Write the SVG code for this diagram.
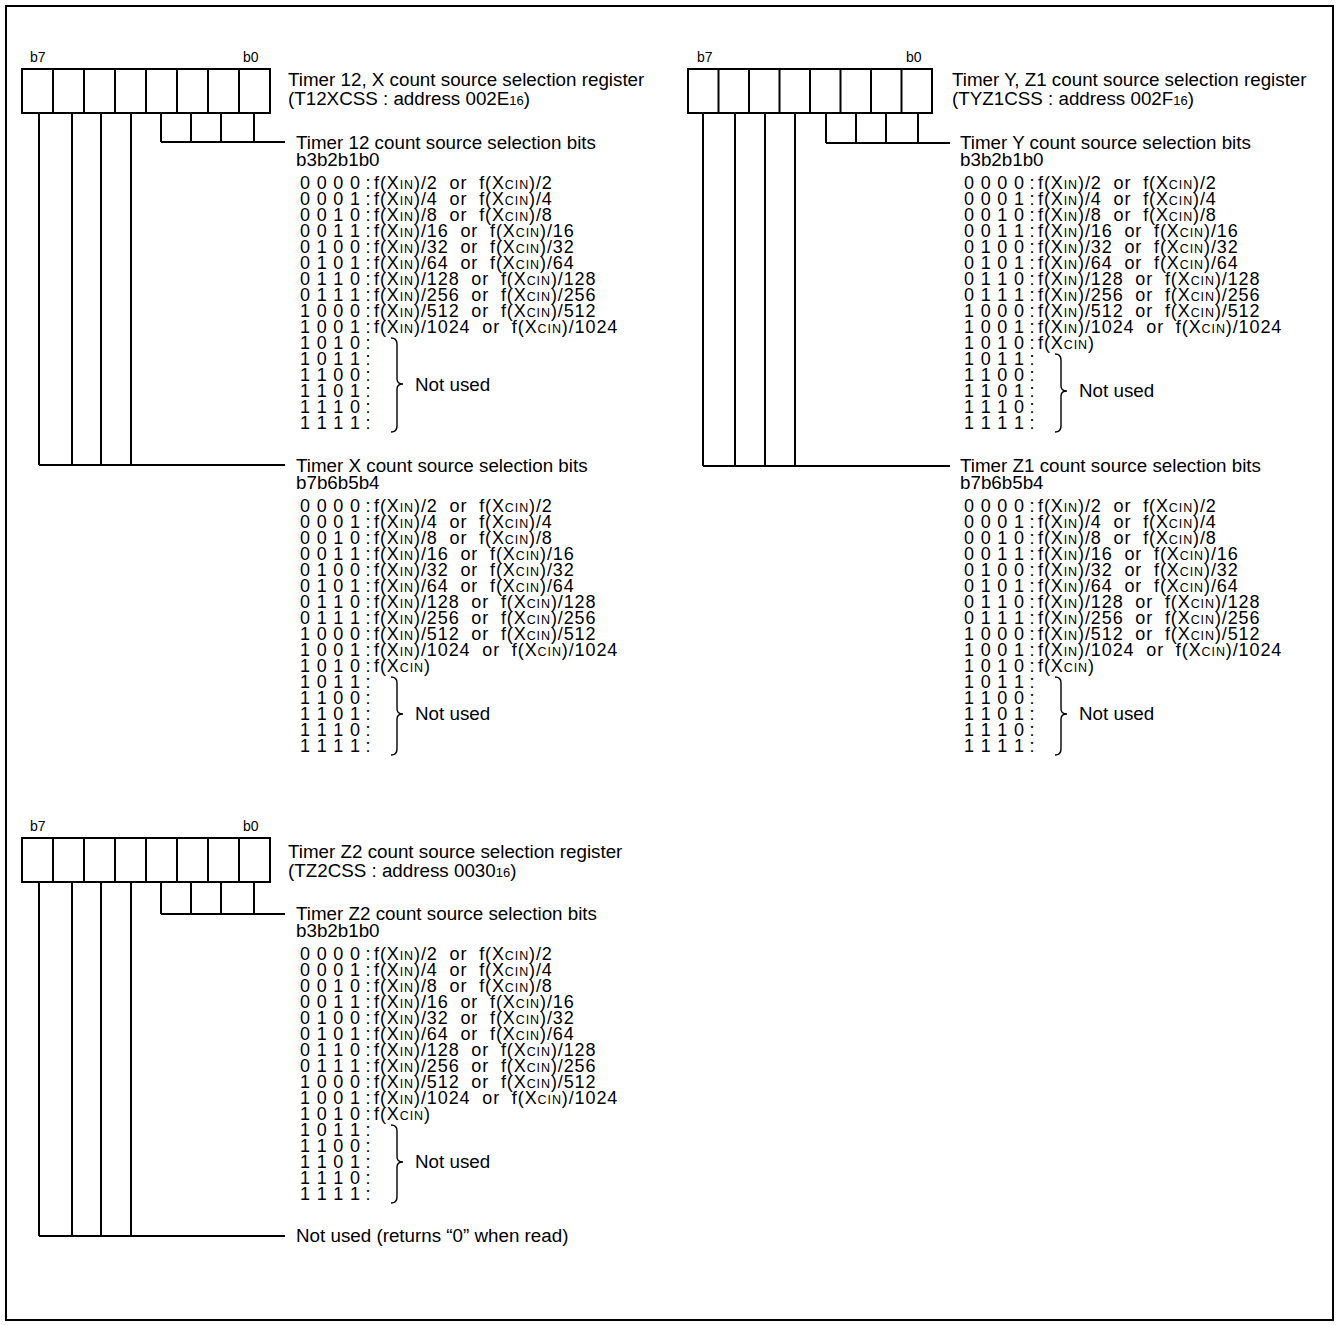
<svg xmlns="http://www.w3.org/2000/svg" width="1337" height="1325" viewBox="0 0 1337 1325">
<style>
text{font-family:"Liberation Sans",Arial,sans-serif;fill:#000}
.h{font-size:18.8px}
.lb{font-size:14px}
.r{font-size:18px}
.fc{letter-spacing:0.9px;white-space:pre}
.s{font-size:12.5px}
.sub{font-size:13px}
.box{fill:#fff;stroke:#000;stroke-width:2}
.ln{stroke:#000;stroke-width:2;fill:none}
.br{stroke:#000;stroke-width:1.4;fill:none}
</style>
<rect x="6" y="6" width="1327" height="1314" fill="#fff" stroke="#000" stroke-width="2"/>

<g id="reg-t12xcss">
<rect class="box" x="22" y="69" width="248" height="44"/>
<path class="ln" d="M53,69V113M84,69V113M115,69V113M146,69V113M177,69V113M208,69V113M239,69V113"/>
<text class="lb" x="30" y="62">b7</text>
<text class="lb" x="243" y="62">b0</text>
<text class="h"><tspan x="288" y="86">Timer 12, X count source selection register</tspan><tspan x="288" y="105">(T12XCSS : address 002E<tspan class="sub">16</tspan>)</tspan></text>
</g>

<g id="reg-tyz1css">
<rect class="box" x="688" y="69" width="244" height="44"/>
<path class="ln" d="M718.5,69V113M749,69V113M779.5,69V113M810,69V113M840.5,69V113M871,69V113M901.5,69V113"/>
<text class="lb" x="697" y="62">b7</text>
<text class="lb" x="906" y="62">b0</text>
<text class="h"><tspan x="952" y="86">Timer Y, Z1 count source selection register</tspan><tspan x="952" y="105">(TYZ1CSS : address 002F<tspan class="sub">16</tspan>)</tspan></text>
</g>

<g id="reg-tz2css">
<rect class="box" x="22" y="838" width="248" height="44"/>
<path class="ln" d="M53,838V882M84,838V882M115,838V882M146,838V882M177,838V882M208,838V882M239,838V882"/>
<text class="lb" x="30" y="831">b7</text>
<text class="lb" x="243" y="831">b0</text>
<text class="h"><tspan x="288" y="858">Timer Z2 count source selection register</tspan><tspan x="288" y="877">(TZ2CSS : address 0030<tspan class="sub">16</tspan>)</tspan></text>
</g>

<g id="connectors" class="ln">
<path d="M161,113V142M191,113V142M221,113V142M254,113V142M161,142H285"/>
<path d="M39,113V465M72,113V465M101,113V465M131,113V465M39,465H285"/>
<path d="M826,113V143M856,113V143M886,113V143M918,113V143M826,143H950"/>
<path d="M703,113V466M735,113V466M765,113V466M795,113V466M703,466H950"/>
<path d="M161,882V914M191,882V914M221,882V914M254,882V914M161,914H285"/>
<path d="M39,882V1236M72,882V1236M101,882V1236M131,882V1236M39,1236H285"/>
</g>

<g id="tbl-timer12">
<text class="h"><tspan x="296" y="149">Timer 12 count source selection bits</tspan><tspan x="296" y="166">b3b2b1b0</tspan></text>
<text class="r"><tspan x="300 316.7 333.3 350 365.5" y="189">0000:</tspan><tspan x="300 316.7 333.3 350 365.5" y="205">0001:</tspan><tspan x="300 316.7 333.3 350 365.5" y="221">0010:</tspan><tspan x="300 316.7 333.3 350 365.5" y="237">0011:</tspan><tspan x="300 316.7 333.3 350 365.5" y="253">0100:</tspan><tspan x="300 316.7 333.3 350 365.5" y="269">0101:</tspan><tspan x="300 316.7 333.3 350 365.5" y="285">0110:</tspan><tspan x="300 316.7 333.3 350 365.5" y="301">0111:</tspan><tspan x="300 316.7 333.3 350 365.5" y="317">1000:</tspan><tspan x="300 316.7 333.3 350 365.5" y="333">1001:</tspan><tspan x="300 316.7 333.3 350 365.5" y="349">1010:</tspan><tspan x="300 316.7 333.3 350 365.5" y="365">1011:</tspan><tspan x="300 316.7 333.3 350 365.5" y="381">1100:</tspan><tspan x="300 316.7 333.3 350 365.5" y="397">1101:</tspan><tspan x="300 316.7 333.3 350 365.5" y="413">1110:</tspan><tspan x="300 316.7 333.3 350 365.5" y="429">1111:</tspan></text>
<text class="r fc"><tspan x="374" y="189">f(X<tspan class="s">IN</tspan>)/2  or  f(X<tspan class="s">CIN</tspan>)/2</tspan><tspan x="374" y="205">f(X<tspan class="s">IN</tspan>)/4  or  f(X<tspan class="s">CIN</tspan>)/4</tspan><tspan x="374" y="221">f(X<tspan class="s">IN</tspan>)/8  or  f(X<tspan class="s">CIN</tspan>)/8</tspan><tspan x="374" y="237">f(X<tspan class="s">IN</tspan>)/16  or  f(X<tspan class="s">CIN</tspan>)/16</tspan><tspan x="374" y="253">f(X<tspan class="s">IN</tspan>)/32  or  f(X<tspan class="s">CIN</tspan>)/32</tspan><tspan x="374" y="269">f(X<tspan class="s">IN</tspan>)/64  or  f(X<tspan class="s">CIN</tspan>)/64</tspan><tspan x="374" y="285">f(X<tspan class="s">IN</tspan>)/128  or  f(X<tspan class="s">CIN</tspan>)/128</tspan><tspan x="374" y="301">f(X<tspan class="s">IN</tspan>)/256  or  f(X<tspan class="s">CIN</tspan>)/256</tspan><tspan x="374" y="317">f(X<tspan class="s">IN</tspan>)/512  or  f(X<tspan class="s">CIN</tspan>)/512</tspan><tspan x="374" y="333">f(X<tspan class="s">IN</tspan>)/1024  or  f(X<tspan class="s">CIN</tspan>)/1024</tspan></text>
<path class="br" d="M391,338Q397,338 397,344L397,379Q397,384 403,384Q397,384 397,389L397,426Q397,432 391,432"/>
<text class="h" x="415" y="391">Not used</text>
</g>

<g id="tbl-timerx" transform="translate(0,323)">
<text class="h"><tspan x="296" y="149">Timer X count source selection bits</tspan><tspan x="296" y="166">b7b6b5b4</tspan></text>
<text class="r"><tspan x="300 316.7 333.3 350 365.5" y="189">0000:</tspan><tspan x="300 316.7 333.3 350 365.5" y="205">0001:</tspan><tspan x="300 316.7 333.3 350 365.5" y="221">0010:</tspan><tspan x="300 316.7 333.3 350 365.5" y="237">0011:</tspan><tspan x="300 316.7 333.3 350 365.5" y="253">0100:</tspan><tspan x="300 316.7 333.3 350 365.5" y="269">0101:</tspan><tspan x="300 316.7 333.3 350 365.5" y="285">0110:</tspan><tspan x="300 316.7 333.3 350 365.5" y="301">0111:</tspan><tspan x="300 316.7 333.3 350 365.5" y="317">1000:</tspan><tspan x="300 316.7 333.3 350 365.5" y="333">1001:</tspan><tspan x="300 316.7 333.3 350 365.5" y="349">1010:</tspan><tspan x="300 316.7 333.3 350 365.5" y="365">1011:</tspan><tspan x="300 316.7 333.3 350 365.5" y="381">1100:</tspan><tspan x="300 316.7 333.3 350 365.5" y="397">1101:</tspan><tspan x="300 316.7 333.3 350 365.5" y="413">1110:</tspan><tspan x="300 316.7 333.3 350 365.5" y="429">1111:</tspan></text>
<text class="r fc"><tspan x="374" y="189">f(X<tspan class="s">IN</tspan>)/2  or  f(X<tspan class="s">CIN</tspan>)/2</tspan><tspan x="374" y="205">f(X<tspan class="s">IN</tspan>)/4  or  f(X<tspan class="s">CIN</tspan>)/4</tspan><tspan x="374" y="221">f(X<tspan class="s">IN</tspan>)/8  or  f(X<tspan class="s">CIN</tspan>)/8</tspan><tspan x="374" y="237">f(X<tspan class="s">IN</tspan>)/16  or  f(X<tspan class="s">CIN</tspan>)/16</tspan><tspan x="374" y="253">f(X<tspan class="s">IN</tspan>)/32  or  f(X<tspan class="s">CIN</tspan>)/32</tspan><tspan x="374" y="269">f(X<tspan class="s">IN</tspan>)/64  or  f(X<tspan class="s">CIN</tspan>)/64</tspan><tspan x="374" y="285">f(X<tspan class="s">IN</tspan>)/128  or  f(X<tspan class="s">CIN</tspan>)/128</tspan><tspan x="374" y="301">f(X<tspan class="s">IN</tspan>)/256  or  f(X<tspan class="s">CIN</tspan>)/256</tspan><tspan x="374" y="317">f(X<tspan class="s">IN</tspan>)/512  or  f(X<tspan class="s">CIN</tspan>)/512</tspan><tspan x="374" y="333">f(X<tspan class="s">IN</tspan>)/1024  or  f(X<tspan class="s">CIN</tspan>)/1024</tspan><tspan x="374" y="349">f(X<tspan class="s">CIN</tspan>)</tspan></text>
<path class="br" d="M391,354Q397,354 397,360L397,386Q397,391 403,391Q397,391 397,396L397,426Q397,432 391,432"/>
<text class="h" x="415" y="397">Not used</text>
</g>

<g id="tbl-timery" transform="translate(664,0)">
<text class="h"><tspan x="296" y="149">Timer Y count source selection bits</tspan><tspan x="296" y="166">b3b2b1b0</tspan></text>
<text class="r"><tspan x="300 316.7 333.3 350 365.5" y="189">0000:</tspan><tspan x="300 316.7 333.3 350 365.5" y="205">0001:</tspan><tspan x="300 316.7 333.3 350 365.5" y="221">0010:</tspan><tspan x="300 316.7 333.3 350 365.5" y="237">0011:</tspan><tspan x="300 316.7 333.3 350 365.5" y="253">0100:</tspan><tspan x="300 316.7 333.3 350 365.5" y="269">0101:</tspan><tspan x="300 316.7 333.3 350 365.5" y="285">0110:</tspan><tspan x="300 316.7 333.3 350 365.5" y="301">0111:</tspan><tspan x="300 316.7 333.3 350 365.5" y="317">1000:</tspan><tspan x="300 316.7 333.3 350 365.5" y="333">1001:</tspan><tspan x="300 316.7 333.3 350 365.5" y="349">1010:</tspan><tspan x="300 316.7 333.3 350 365.5" y="365">1011:</tspan><tspan x="300 316.7 333.3 350 365.5" y="381">1100:</tspan><tspan x="300 316.7 333.3 350 365.5" y="397">1101:</tspan><tspan x="300 316.7 333.3 350 365.5" y="413">1110:</tspan><tspan x="300 316.7 333.3 350 365.5" y="429">1111:</tspan></text>
<text class="r fc"><tspan x="374" y="189">f(X<tspan class="s">IN</tspan>)/2  or  f(X<tspan class="s">CIN</tspan>)/2</tspan><tspan x="374" y="205">f(X<tspan class="s">IN</tspan>)/4  or  f(X<tspan class="s">CIN</tspan>)/4</tspan><tspan x="374" y="221">f(X<tspan class="s">IN</tspan>)/8  or  f(X<tspan class="s">CIN</tspan>)/8</tspan><tspan x="374" y="237">f(X<tspan class="s">IN</tspan>)/16  or  f(X<tspan class="s">CIN</tspan>)/16</tspan><tspan x="374" y="253">f(X<tspan class="s">IN</tspan>)/32  or  f(X<tspan class="s">CIN</tspan>)/32</tspan><tspan x="374" y="269">f(X<tspan class="s">IN</tspan>)/64  or  f(X<tspan class="s">CIN</tspan>)/64</tspan><tspan x="374" y="285">f(X<tspan class="s">IN</tspan>)/128  or  f(X<tspan class="s">CIN</tspan>)/128</tspan><tspan x="374" y="301">f(X<tspan class="s">IN</tspan>)/256  or  f(X<tspan class="s">CIN</tspan>)/256</tspan><tspan x="374" y="317">f(X<tspan class="s">IN</tspan>)/512  or  f(X<tspan class="s">CIN</tspan>)/512</tspan><tspan x="374" y="333">f(X<tspan class="s">IN</tspan>)/1024  or  f(X<tspan class="s">CIN</tspan>)/1024</tspan><tspan x="374" y="349">f(X<tspan class="s">CIN</tspan>)</tspan></text>
<path class="br" d="M391,354Q397,354 397,360L397,386Q397,391 403,391Q397,391 397,396L397,426Q397,432 391,432"/>
<text class="h" x="415" y="397">Not used</text>
</g>

<g id="tbl-timerz1" transform="translate(664,323)">
<text class="h"><tspan x="296" y="149">Timer Z1 count source selection bits</tspan><tspan x="296" y="166">b7b6b5b4</tspan></text>
<text class="r"><tspan x="300 316.7 333.3 350 365.5" y="189">0000:</tspan><tspan x="300 316.7 333.3 350 365.5" y="205">0001:</tspan><tspan x="300 316.7 333.3 350 365.5" y="221">0010:</tspan><tspan x="300 316.7 333.3 350 365.5" y="237">0011:</tspan><tspan x="300 316.7 333.3 350 365.5" y="253">0100:</tspan><tspan x="300 316.7 333.3 350 365.5" y="269">0101:</tspan><tspan x="300 316.7 333.3 350 365.5" y="285">0110:</tspan><tspan x="300 316.7 333.3 350 365.5" y="301">0111:</tspan><tspan x="300 316.7 333.3 350 365.5" y="317">1000:</tspan><tspan x="300 316.7 333.3 350 365.5" y="333">1001:</tspan><tspan x="300 316.7 333.3 350 365.5" y="349">1010:</tspan><tspan x="300 316.7 333.3 350 365.5" y="365">1011:</tspan><tspan x="300 316.7 333.3 350 365.5" y="381">1100:</tspan><tspan x="300 316.7 333.3 350 365.5" y="397">1101:</tspan><tspan x="300 316.7 333.3 350 365.5" y="413">1110:</tspan><tspan x="300 316.7 333.3 350 365.5" y="429">1111:</tspan></text>
<text class="r fc"><tspan x="374" y="189">f(X<tspan class="s">IN</tspan>)/2  or  f(X<tspan class="s">CIN</tspan>)/2</tspan><tspan x="374" y="205">f(X<tspan class="s">IN</tspan>)/4  or  f(X<tspan class="s">CIN</tspan>)/4</tspan><tspan x="374" y="221">f(X<tspan class="s">IN</tspan>)/8  or  f(X<tspan class="s">CIN</tspan>)/8</tspan><tspan x="374" y="237">f(X<tspan class="s">IN</tspan>)/16  or  f(X<tspan class="s">CIN</tspan>)/16</tspan><tspan x="374" y="253">f(X<tspan class="s">IN</tspan>)/32  or  f(X<tspan class="s">CIN</tspan>)/32</tspan><tspan x="374" y="269">f(X<tspan class="s">IN</tspan>)/64  or  f(X<tspan class="s">CIN</tspan>)/64</tspan><tspan x="374" y="285">f(X<tspan class="s">IN</tspan>)/128  or  f(X<tspan class="s">CIN</tspan>)/128</tspan><tspan x="374" y="301">f(X<tspan class="s">IN</tspan>)/256  or  f(X<tspan class="s">CIN</tspan>)/256</tspan><tspan x="374" y="317">f(X<tspan class="s">IN</tspan>)/512  or  f(X<tspan class="s">CIN</tspan>)/512</tspan><tspan x="374" y="333">f(X<tspan class="s">IN</tspan>)/1024  or  f(X<tspan class="s">CIN</tspan>)/1024</tspan><tspan x="374" y="349">f(X<tspan class="s">CIN</tspan>)</tspan></text>
<path class="br" d="M391,354Q397,354 397,360L397,386Q397,391 403,391Q397,391 397,396L397,426Q397,432 391,432"/>
<text class="h" x="415" y="397">Not used</text>
</g>

<g id="tbl-timerz2" transform="translate(0,771)">
<text class="h"><tspan x="296" y="149">Timer Z2 count source selection bits</tspan><tspan x="296" y="166">b3b2b1b0</tspan></text>
<text class="r"><tspan x="300 316.7 333.3 350 365.5" y="189">0000:</tspan><tspan x="300 316.7 333.3 350 365.5" y="205">0001:</tspan><tspan x="300 316.7 333.3 350 365.5" y="221">0010:</tspan><tspan x="300 316.7 333.3 350 365.5" y="237">0011:</tspan><tspan x="300 316.7 333.3 350 365.5" y="253">0100:</tspan><tspan x="300 316.7 333.3 350 365.5" y="269">0101:</tspan><tspan x="300 316.7 333.3 350 365.5" y="285">0110:</tspan><tspan x="300 316.7 333.3 350 365.5" y="301">0111:</tspan><tspan x="300 316.7 333.3 350 365.5" y="317">1000:</tspan><tspan x="300 316.7 333.3 350 365.5" y="333">1001:</tspan><tspan x="300 316.7 333.3 350 365.5" y="349">1010:</tspan><tspan x="300 316.7 333.3 350 365.5" y="365">1011:</tspan><tspan x="300 316.7 333.3 350 365.5" y="381">1100:</tspan><tspan x="300 316.7 333.3 350 365.5" y="397">1101:</tspan><tspan x="300 316.7 333.3 350 365.5" y="413">1110:</tspan><tspan x="300 316.7 333.3 350 365.5" y="429">1111:</tspan></text>
<text class="r fc"><tspan x="374" y="189">f(X<tspan class="s">IN</tspan>)/2  or  f(X<tspan class="s">CIN</tspan>)/2</tspan><tspan x="374" y="205">f(X<tspan class="s">IN</tspan>)/4  or  f(X<tspan class="s">CIN</tspan>)/4</tspan><tspan x="374" y="221">f(X<tspan class="s">IN</tspan>)/8  or  f(X<tspan class="s">CIN</tspan>)/8</tspan><tspan x="374" y="237">f(X<tspan class="s">IN</tspan>)/16  or  f(X<tspan class="s">CIN</tspan>)/16</tspan><tspan x="374" y="253">f(X<tspan class="s">IN</tspan>)/32  or  f(X<tspan class="s">CIN</tspan>)/32</tspan><tspan x="374" y="269">f(X<tspan class="s">IN</tspan>)/64  or  f(X<tspan class="s">CIN</tspan>)/64</tspan><tspan x="374" y="285">f(X<tspan class="s">IN</tspan>)/128  or  f(X<tspan class="s">CIN</tspan>)/128</tspan><tspan x="374" y="301">f(X<tspan class="s">IN</tspan>)/256  or  f(X<tspan class="s">CIN</tspan>)/256</tspan><tspan x="374" y="317">f(X<tspan class="s">IN</tspan>)/512  or  f(X<tspan class="s">CIN</tspan>)/512</tspan><tspan x="374" y="333">f(X<tspan class="s">IN</tspan>)/1024  or  f(X<tspan class="s">CIN</tspan>)/1024</tspan><tspan x="374" y="349">f(X<tspan class="s">CIN</tspan>)</tspan></text>
<path class="br" d="M391,354Q397,354 397,360L397,386Q397,391 403,391Q397,391 397,396L397,426Q397,432 391,432"/>
<text class="h" x="415" y="397">Not used</text>
</g>

<g id="lbl-b7b4-z2">
<text class="h" x="296" y="1242">Not used (returns “0” when read)</text>
</g>
</svg>
